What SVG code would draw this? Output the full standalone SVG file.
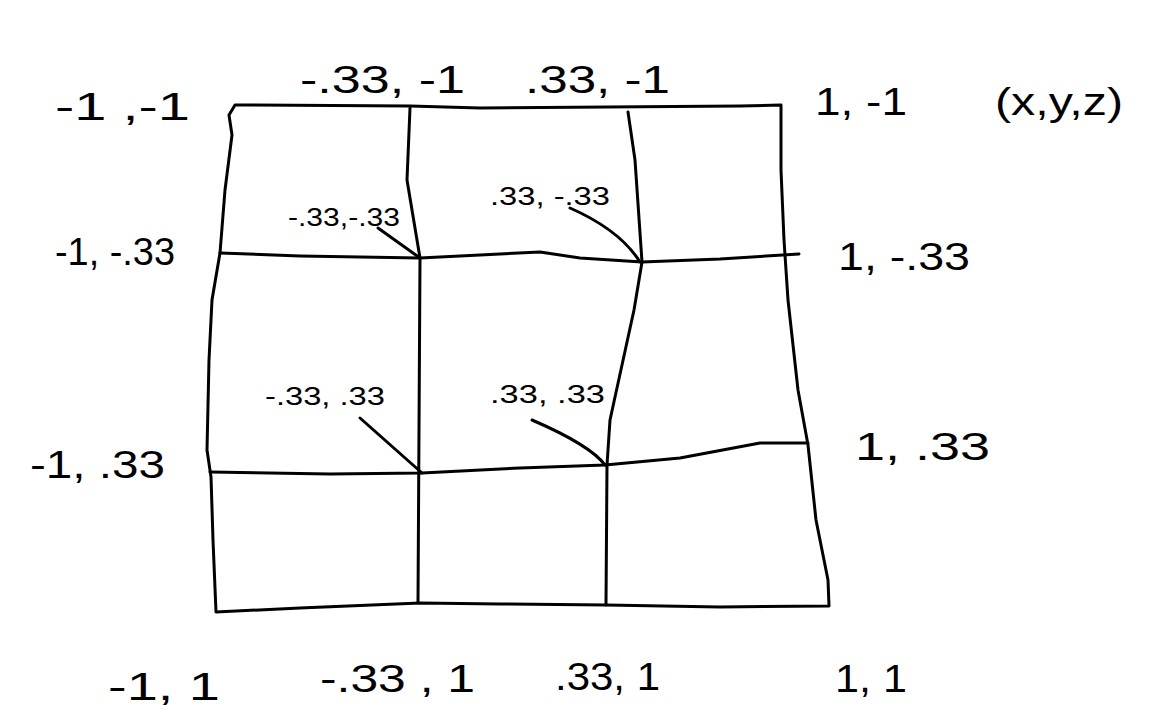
<svg xmlns="http://www.w3.org/2000/svg" width="1152" height="720" viewBox="0 0 1152 720">
<style>
.ln{fill:none;stroke:#000;stroke-width:3;stroke-linecap:round;stroke-linejoin:round}
.big{font-family:"Liberation Sans",Arial,sans-serif;font-size:38px;fill:#000}
.sm{font-family:"Liberation Sans",Arial,sans-serif;font-size:26px;fill:#000}
</style>
<rect width="1152" height="720" fill="#fff"/>
<g id="grid">
<path class="ln" d="M235,105 L410,106 L480,108 L740,106 L781,105 L781,170 L784,240 L788,300 L798,390 L808,445 L816,520 L824,560 L828,580 L829,606 L720,607 L606,605 L500,604 L420,603 L300,608 L216,612 L213,540 L211,477 L207,450 L209,360 L212,300 L220,253 L225,190 L232,135 L229,115 Z"/>
<path class="ln" d="M410,108 L407,180 L420,258 L418,602"/>
<path class="ln" d="M628,112 L635,160 L642,262 L634,310 L610,420 L607,465 L606,605"/>
<path class="ln" d="M220,253 L300,256 L420,258 L500,254 L540,252 L580,258 L642,262 L720,259 L799,254"/>
<path class="ln" d="M210,472 L330,474 L422,473 L520,468 L605,465 L680,458 L760,443 L808,443"/>
</g>
<g id="connectors">
<path class="ln" d="M378,228 L420,258"/>
<path class="ln" d="M570,208 Q620,230 640,262"/>
<path class="ln" d="M360,418 L422,473"/>
<path class="ln" d="M532,420 Q590,445 605,465"/>
</g>
<g id="labels">
<text class="big" x="55" y="120" textLength="135" lengthAdjust="spacingAndGlyphs">-1 ,-1</text>
<text class="big" x="300" y="93" textLength="165" lengthAdjust="spacingAndGlyphs">-.33, -1</text>
<text class="big" x="525" y="93" textLength="145" lengthAdjust="spacingAndGlyphs">.33, -1</text>
<text class="big" x="815" y="115" textLength="92" lengthAdjust="spacingAndGlyphs">1, -1</text>
<text class="big" x="995" y="115" font-size="46" textLength="128" lengthAdjust="spacingAndGlyphs">(x,y,z)</text>
<text class="big" x="55" y="265" textLength="120" lengthAdjust="spacingAndGlyphs">-1, -.33</text>
<text class="big" x="838" y="270" textLength="132" lengthAdjust="spacingAndGlyphs">1, -.33</text>
<text class="sm" x="288" y="226" textLength="112" lengthAdjust="spacingAndGlyphs">-.33,-.33</text>
<text class="sm" x="490" y="205" textLength="120" lengthAdjust="spacingAndGlyphs">.33, -.33</text>
<text class="big" x="30" y="478" textLength="135" lengthAdjust="spacingAndGlyphs">-1, .33</text>
<text class="big" x="855" y="460" textLength="135" lengthAdjust="spacingAndGlyphs">1, .33</text>
<text class="sm" x="265" y="405" textLength="120" lengthAdjust="spacingAndGlyphs">-.33, .33</text>
<text class="sm" x="490" y="403" textLength="115" lengthAdjust="spacingAndGlyphs">.33, .33</text>
<text class="big" x="108" y="700" font-size="48" textLength="112" lengthAdjust="spacingAndGlyphs">-1, 1</text>
<text class="big" x="320" y="692" textLength="155" lengthAdjust="spacingAndGlyphs">-.33 , 1</text>
<text class="big" x="555" y="690" textLength="105" lengthAdjust="spacingAndGlyphs">.33, 1</text>
<text class="big" x="835" y="692" font-size="44" textLength="72" lengthAdjust="spacingAndGlyphs">1, 1</text>
</g>
</svg>
